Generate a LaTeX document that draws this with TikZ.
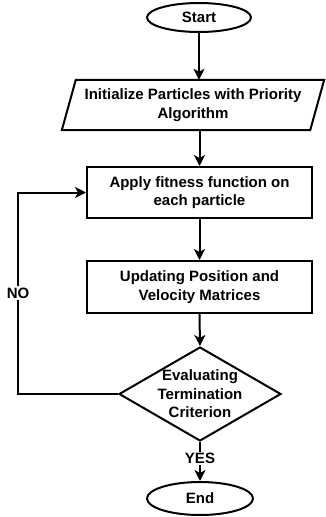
\documentclass[tikz,border=0pt]{standalone}
\usepackage{fontspec}
\setmainfont{Liberation Sans}
\usetikzlibrary{shapes.geometric,arrows.meta,calc}
\begin{document}
\begin{tikzpicture}[x=1pt,y=-1pt,
  every node/.style={font=\fontsize{15}{18.5}\selectfont\bfseries, align=center},
  line/.style={line width=2pt},
  arr/.style={draw, line width=2pt, -{Stealth[length=11pt,width=11pt,inset=3pt]}},
  term/.style={ellipse, draw, line width=2pt, inner sep=0pt},
  procbox/.style={rectangle, draw, line width=2pt, minimum width=225, minimum height=51, inner sep=0pt},
  lbl/.style={fill=white, inner sep=1.5pt}
]
\useasboundingbox (0,0) rectangle (325,517);

% terminals, process boxes and decision
\node[term, minimum width=104, minimum height=29] (start) at (199,17.5) {Start};
\node[minimum width=262, minimum height=50, inner sep=0pt] (init) at (193,105)
  {Initialize Particles with Priority\\Algorithm};
\draw[line, line join=miter]
  ($(init.north west)+(14,0)$) -- (init.north east)
  -- ($(init.south east)+(-14,0)$) -- (init.south west) -- cycle;
\node[procbox] (apply) at (199.5,192.5) {Apply fitness function on\\each particle};
\node[procbox, minimum height=52] (update) at (199.5,287) {Updating Position and\\Velocity Matrices};
\node[diamond, draw, line width=2pt, minimum width=162, minimum height=94, inner sep=0pt] (eval) at (200,394) {};
\node (evaltext) at (eval.center) {Evaluating\\Termination\\Criterion};
\node[term, minimum width=106, minimum height=33] (end) at (200,498.5) {End};
\coordinate (back) at (18,394);

% connectors
\draw[arr] (start.south) -- (start.south |- init.north);
\draw[arr] (apply.north |- init.south) -- (apply.north);
\draw[arr] (apply.south) -- (apply.south -| update.north) -- (update.north);
\draw[arr] (update.south) -- (eval.north);
\draw[arr] (eval.south) -- node[lbl, pos=0.42] {YES} (end.north);
\draw[arr] (eval.west) -- (back) |- node[lbl, pos=0.25] {NO} (apply.west);
\end{tikzpicture}
\end{document}
